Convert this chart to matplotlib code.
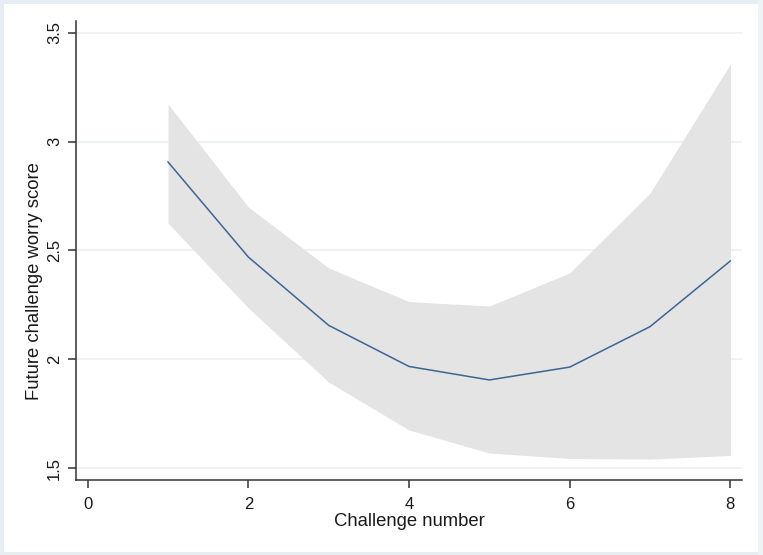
import numpy as np
import matplotlib
matplotlib.use("Agg")
import matplotlib.pyplot as plt
from matplotlib.patches import Rectangle

plt.rcParams['font.family'] = ['Liberation Sans', 'DejaVu Sans']

# values
challenge = [1, 2, 3, 4, 5, 6, 7, 8]
worry = [2.907, 2.47, 2.156, 1.967, 1.905, 1.964, 2.15, 2.452]
ci_upper = [3.174, 2.70, 2.42, 2.265, 2.245, 2.397, 2.764, 3.357]
ci_lower = [2.626, 2.236, 1.895, 1.675, 1.569, 1.544, 1.541, 1.558]

x_ticks = [0, 2, 4, 6, 8]
y_ticks = [1.5, 2, 2.5, 3, 3.5]
y_tick_labels = ['1.5', '2', '2.5', '3', '3.5']

fig = plt.figure(figsize=(7.63, 5.55), dpi=100, facecolor='white')
ax = fig.add_axes([0.0996, 0.1351, 0.9725 - 0.0996, 0.9622 - 0.1351])

# light frame round the whole graph region
fig.patches.append(Rectangle((0, 0), 1, 1, transform=fig.transFigure,
                             fill=False, edgecolor='#e6eef2', linewidth=5))
fig.patches.append(Rectangle((0.994, 0), 0.006, 1, transform=fig.transFigure,
                             facecolor='#eef3f5', edgecolor='none'))

ax.fill_between(challenge, ci_lower, ci_upper, color='#e4e4e4', linewidth=0, zorder=2)
ax.plot(challenge, worry, color='#3d6593', linewidth=1.1, zorder=3)

ax.set_xlim(-0.145, 8.145)
ax.set_ylim(1.445, 3.555)
ax.set_xticks(x_ticks)
ax.set_yticks(y_ticks)
ax.set_yticklabels(y_tick_labels)

ax.grid(axis='y', color='#e8f1f3', linewidth=1.2, zorder=1)
ax.set_axisbelow(True)

for side in ['top', 'right']:
    ax.spines[side].set_visible(False)
for side in ['left', 'bottom']:
    ax.spines[side].set_color('#333333')
    ax.spines[side].set_linewidth(1.1)

ax.tick_params(axis='both', length=6, width=1.1, color='#333333',
               labelsize=12, labelcolor='#1a1a1a')
ax.tick_params(axis='y', pad=4)
ax.tick_params(axis='x', pad=6)
plt.setp(ax.get_yticklabels(), rotation=90, va='center')

ax.set_xlabel('Challenge number', fontsize=13.3, color='#1a1a1a', labelpad=1)
ax.set_ylabel('Future challenge worry score', fontsize=13.3, color='#1a1a1a')
ax.yaxis.set_label_coords(-0.05, 0.434)

fig.savefig('out.png', dpi=100, facecolor='white')
